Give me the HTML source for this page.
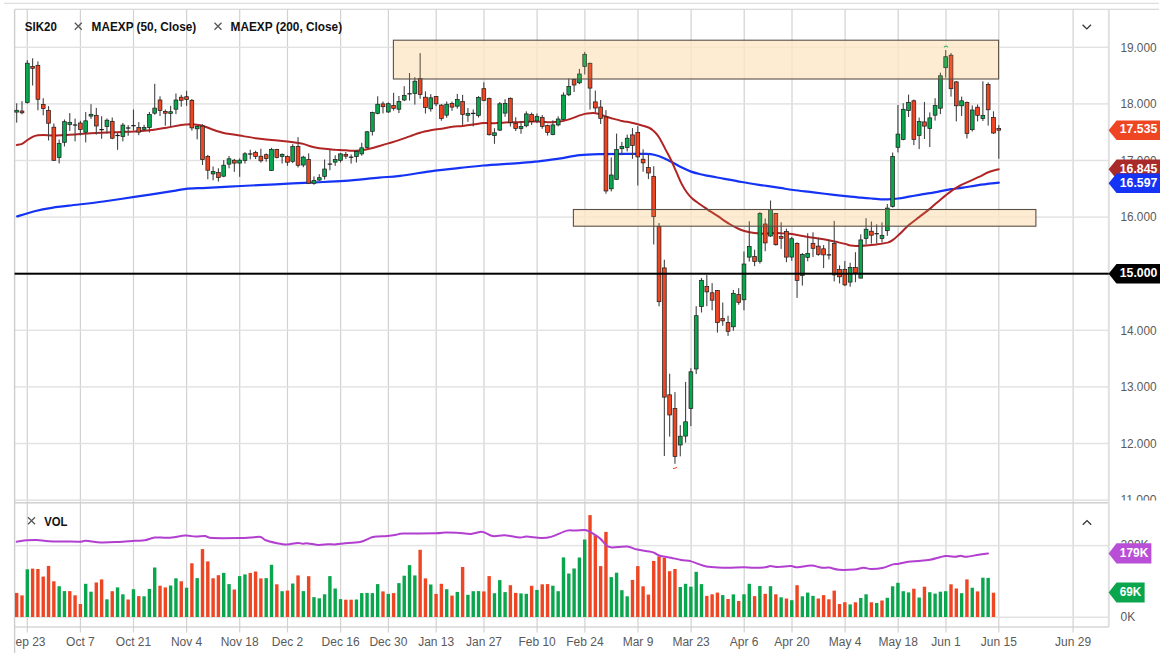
<!DOCTYPE html>
<html lang="en"><head><meta charset="utf-8"><title>SIK20 chart</title>
<style>html,body{margin:0;padding:0;background:#fff}body{width:1163px;height:653px;overflow:hidden;font-family:"Liberation Sans",Arial,sans-serif}</style>
</head><body>
<svg width="1163" height="653" viewBox="0 0 1163 653" style="display:block">
<rect width="1163" height="653" fill="#fff"/>
<rect x="4" y="2.8" width="1155" height="1" fill="#d6d6d6"/>
<g fill="#d2d2d2">
<rect x="26.7" y="9.3" width="1.2" height="623.2"/>
<rect x="79.8" y="9.3" width="1.2" height="623.2"/>
<rect x="132.9" y="9.3" width="1.2" height="623.2"/>
<rect x="186.0" y="9.3" width="1.2" height="623.2"/>
<rect x="239.1" y="9.3" width="1.2" height="623.2"/>
<rect x="286.9" y="9.3" width="1.2" height="623.2"/>
<rect x="340.0" y="9.3" width="1.2" height="623.2"/>
<rect x="387.8" y="9.3" width="1.2" height="623.2"/>
<rect x="435.6" y="9.3" width="1.2" height="623.2"/>
<rect x="483.4" y="9.3" width="1.2" height="623.2"/>
<rect x="536.5" y="9.3" width="1.2" height="623.2"/>
<rect x="584.3" y="9.3" width="1.2" height="623.2"/>
<rect x="637.4" y="9.3" width="1.2" height="623.2"/>
<rect x="690.5" y="9.3" width="1.2" height="623.2"/>
<rect x="743.6" y="9.3" width="1.2" height="623.2"/>
<rect x="791.4" y="9.3" width="1.2" height="623.2"/>
<rect x="844.5" y="9.3" width="1.2" height="623.2"/>
<rect x="897.6" y="9.3" width="1.2" height="623.2"/>
<rect x="945.4" y="9.3" width="1.2" height="623.2"/>
<rect x="998.2" y="9.3" width="1.2" height="623.2"/>
<rect x="1072.5" y="9.3" width="1.2" height="623.2"/>
</g>
<g fill="#e2e2e2">
<rect x="14.6" y="46.6" width="1094.2" height="1.4"/>
<rect x="14.6" y="103.2" width="1094.2" height="1.4"/>
<rect x="14.6" y="159.8" width="1094.2" height="1.4"/>
<rect x="14.6" y="216.4" width="1094.2" height="1.4"/>
<rect x="14.6" y="273.0" width="1094.2" height="1.4"/>
<rect x="14.6" y="329.6" width="1094.2" height="1.4"/>
<rect x="14.6" y="386.2" width="1094.2" height="1.4"/>
<rect x="14.6" y="442.8" width="1094.2" height="1.4"/>
<rect x="14.6" y="499.4" width="1094.2" height="1.6"/>
<rect x="14.6" y="544.9" width="1094.2" height="1.4"/>
<rect x="14.6" y="616.5" width="1094.2" height="1.4"/>
</g>
<g fill="#cdcdcd">
<rect x="13.9" y="9.3" width="1.4" height="643.7"/>
<rect x="14.6" y="8.7" width="1144.4" height="1.2" fill="#d6d6d6"/>
<rect x="14.6" y="502.1" width="1094.2" height="1.4"/>
<rect x="14.6" y="626.4" width="1094.2" height="1.2"/>
</g>
<rect x="1107.8" y="9.3" width="2" height="617.7" fill="#e0e0e0"/>
<rect x="14.98" y="592.9" width="3.4" height="24.1" fill="#ee4523"/>
<rect x="20.29" y="595.4" width="3.4" height="21.6" fill="#ee4523"/>
<rect x="25.60" y="569.3" width="3.4" height="47.7" fill="#0aa64d"/>
<rect x="30.91" y="568.6" width="3.4" height="48.4" fill="#ee4523"/>
<rect x="36.22" y="569.0" width="3.4" height="48.0" fill="#ee4523"/>
<rect x="41.53" y="576.6" width="3.4" height="40.4" fill="#ee4523"/>
<rect x="46.83" y="565.9" width="3.4" height="51.1" fill="#ee4523"/>
<rect x="52.14" y="581.3" width="3.4" height="35.7" fill="#ee4523"/>
<rect x="57.45" y="586.2" width="3.4" height="30.8" fill="#0aa64d"/>
<rect x="62.76" y="591.1" width="3.4" height="25.9" fill="#0aa64d"/>
<rect x="68.07" y="591.1" width="3.4" height="25.9" fill="#ee4523"/>
<rect x="73.38" y="595.3" width="3.4" height="21.7" fill="#ee4523"/>
<rect x="78.69" y="604.0" width="3.4" height="13.0" fill="#ee4523"/>
<rect x="84.00" y="583.8" width="3.4" height="33.2" fill="#0aa64d"/>
<rect x="89.30" y="591.7" width="3.4" height="25.3" fill="#0aa64d"/>
<rect x="94.61" y="582.5" width="3.4" height="34.5" fill="#ee4523"/>
<rect x="99.92" y="579.4" width="3.4" height="37.6" fill="#ee4523"/>
<rect x="105.23" y="599.3" width="3.4" height="17.7" fill="#0aa64d"/>
<rect x="110.54" y="591.2" width="3.4" height="25.8" fill="#ee4523"/>
<rect x="115.85" y="587.4" width="3.4" height="29.6" fill="#0aa64d"/>
<rect x="121.16" y="594.3" width="3.4" height="22.7" fill="#0aa64d"/>
<rect x="126.47" y="599.5" width="3.4" height="17.5" fill="#ee4523"/>
<rect x="131.77" y="589.2" width="3.4" height="27.8" fill="#0aa64d"/>
<rect x="137.08" y="596.1" width="3.4" height="20.9" fill="#ee4523"/>
<rect x="142.39" y="596.3" width="3.4" height="20.7" fill="#0aa64d"/>
<rect x="147.70" y="588.9" width="3.4" height="28.1" fill="#0aa64d"/>
<rect x="153.01" y="567.5" width="3.4" height="49.5" fill="#0aa64d"/>
<rect x="158.32" y="585.7" width="3.4" height="31.3" fill="#ee4523"/>
<rect x="163.63" y="587.4" width="3.4" height="29.6" fill="#ee4523"/>
<rect x="168.93" y="585.5" width="3.4" height="31.5" fill="#0aa64d"/>
<rect x="174.24" y="578.3" width="3.4" height="38.7" fill="#0aa64d"/>
<rect x="179.55" y="581.3" width="3.4" height="35.7" fill="#ee4523"/>
<rect x="184.86" y="587.7" width="3.4" height="29.3" fill="#0aa64d"/>
<rect x="190.17" y="563.3" width="3.4" height="53.7" fill="#ee4523"/>
<rect x="195.48" y="578.1" width="3.4" height="38.9" fill="#0aa64d"/>
<rect x="200.79" y="549.1" width="3.4" height="67.9" fill="#ee4523"/>
<rect x="206.10" y="561.4" width="3.4" height="55.6" fill="#ee4523"/>
<rect x="211.40" y="578.3" width="3.4" height="38.7" fill="#ee4523"/>
<rect x="216.71" y="575.2" width="3.4" height="41.8" fill="#ee4523"/>
<rect x="222.02" y="572.9" width="3.4" height="44.1" fill="#0aa64d"/>
<rect x="227.33" y="584.1" width="3.4" height="32.9" fill="#0aa64d"/>
<rect x="232.64" y="589.5" width="3.4" height="27.5" fill="#ee4523"/>
<rect x="237.95" y="576.1" width="3.4" height="40.9" fill="#0aa64d"/>
<rect x="243.26" y="574.4" width="3.4" height="42.6" fill="#0aa64d"/>
<rect x="248.57" y="572.9" width="3.4" height="44.1" fill="#ee4523"/>
<rect x="253.87" y="571.5" width="3.4" height="45.5" fill="#ee4523"/>
<rect x="259.18" y="578.4" width="3.4" height="38.6" fill="#ee4523"/>
<rect x="264.49" y="578.1" width="3.4" height="38.9" fill="#0aa64d"/>
<rect x="269.80" y="564.8" width="3.4" height="52.2" fill="#0aa64d"/>
<rect x="275.11" y="584.3" width="3.4" height="32.7" fill="#ee4523"/>
<rect x="280.42" y="591.2" width="3.4" height="25.8" fill="#0aa64d"/>
<rect x="285.73" y="590.6" width="3.4" height="26.4" fill="#ee4523"/>
<rect x="291.04" y="583.5" width="3.4" height="33.5" fill="#0aa64d"/>
<rect x="296.34" y="575.4" width="3.4" height="41.6" fill="#ee4523"/>
<rect x="301.65" y="591.1" width="3.4" height="25.9" fill="#0aa64d"/>
<rect x="306.96" y="576.2" width="3.4" height="40.8" fill="#ee4523"/>
<rect x="312.27" y="597.1" width="3.4" height="19.9" fill="#0aa64d"/>
<rect x="317.58" y="598.3" width="3.4" height="18.7" fill="#0aa64d"/>
<rect x="322.89" y="594.3" width="3.4" height="22.7" fill="#0aa64d"/>
<rect x="328.20" y="576.1" width="3.4" height="40.9" fill="#0aa64d"/>
<rect x="333.50" y="588.5" width="3.4" height="28.5" fill="#0aa64d"/>
<rect x="338.81" y="599.1" width="3.4" height="17.9" fill="#0aa64d"/>
<rect x="344.12" y="599.7" width="3.4" height="17.3" fill="#ee4523"/>
<rect x="349.43" y="599.7" width="3.4" height="17.3" fill="#ee4523"/>
<rect x="354.74" y="599.5" width="3.4" height="17.5" fill="#0aa64d"/>
<rect x="360.05" y="593.1" width="3.4" height="23.9" fill="#0aa64d"/>
<rect x="365.36" y="592.9" width="3.4" height="24.1" fill="#0aa64d"/>
<rect x="370.67" y="593.1" width="3.4" height="23.9" fill="#0aa64d"/>
<rect x="375.97" y="584.1" width="3.4" height="32.9" fill="#0aa64d"/>
<rect x="381.28" y="591.4" width="3.4" height="25.6" fill="#ee4523"/>
<rect x="386.59" y="593.9" width="3.4" height="23.1" fill="#0aa64d"/>
<rect x="391.90" y="593.1" width="3.4" height="23.9" fill="#ee4523"/>
<rect x="397.21" y="583.1" width="3.4" height="33.9" fill="#0aa64d"/>
<rect x="402.52" y="575.7" width="3.4" height="41.3" fill="#0aa64d"/>
<rect x="407.83" y="565.1" width="3.4" height="51.9" fill="#0aa64d"/>
<rect x="413.14" y="575.4" width="3.4" height="41.6" fill="#0aa64d"/>
<rect x="418.44" y="549.8" width="3.4" height="67.2" fill="#ee4523"/>
<rect x="423.75" y="578.4" width="3.4" height="38.6" fill="#ee4523"/>
<rect x="429.06" y="584.5" width="3.4" height="32.5" fill="#0aa64d"/>
<rect x="434.37" y="593.9" width="3.4" height="23.1" fill="#ee4523"/>
<rect x="439.68" y="583.8" width="3.4" height="33.2" fill="#ee4523"/>
<rect x="444.99" y="589.2" width="3.4" height="27.8" fill="#0aa64d"/>
<rect x="450.30" y="595.6" width="3.4" height="21.4" fill="#ee4523"/>
<rect x="455.60" y="591.9" width="3.4" height="25.1" fill="#0aa64d"/>
<rect x="460.91" y="567.0" width="3.4" height="50.0" fill="#ee4523"/>
<rect x="466.22" y="594.8" width="3.4" height="22.2" fill="#0aa64d"/>
<rect x="471.53" y="591.2" width="3.4" height="25.8" fill="#0aa64d"/>
<rect x="476.84" y="591.1" width="3.4" height="25.9" fill="#0aa64d"/>
<rect x="482.15" y="591.4" width="3.4" height="25.6" fill="#ee4523"/>
<rect x="487.46" y="576.1" width="3.4" height="40.9" fill="#ee4523"/>
<rect x="492.77" y="593.2" width="3.4" height="23.8" fill="#0aa64d"/>
<rect x="498.07" y="580.1" width="3.4" height="36.9" fill="#0aa64d"/>
<rect x="503.38" y="592.1" width="3.4" height="24.9" fill="#0aa64d"/>
<rect x="508.69" y="585.2" width="3.4" height="31.8" fill="#ee4523"/>
<rect x="514.00" y="592.9" width="3.4" height="24.1" fill="#ee4523"/>
<rect x="519.31" y="593.4" width="3.4" height="23.6" fill="#0aa64d"/>
<rect x="524.62" y="593.8" width="3.4" height="23.2" fill="#0aa64d"/>
<rect x="529.93" y="585.8" width="3.4" height="31.2" fill="#ee4523"/>
<rect x="535.24" y="589.9" width="3.4" height="27.1" fill="#0aa64d"/>
<rect x="540.54" y="584.3" width="3.4" height="32.7" fill="#ee4523"/>
<rect x="545.85" y="584.1" width="3.4" height="32.9" fill="#ee4523"/>
<rect x="551.16" y="585.7" width="3.4" height="31.3" fill="#0aa64d"/>
<rect x="556.47" y="591.2" width="3.4" height="25.8" fill="#0aa64d"/>
<rect x="561.78" y="557.4" width="3.4" height="59.6" fill="#0aa64d"/>
<rect x="567.09" y="573.5" width="3.4" height="43.5" fill="#0aa64d"/>
<rect x="572.40" y="568.5" width="3.4" height="48.5" fill="#0aa64d"/>
<rect x="577.70" y="557.5" width="3.4" height="59.5" fill="#0aa64d"/>
<rect x="583.01" y="539.5" width="3.4" height="77.5" fill="#0aa64d"/>
<rect x="588.32" y="515.1" width="3.4" height="101.9" fill="#ee4523"/>
<rect x="593.63" y="535.3" width="3.4" height="81.7" fill="#ee4523"/>
<rect x="598.94" y="566.1" width="3.4" height="50.9" fill="#ee4523"/>
<rect x="604.25" y="531.9" width="3.4" height="85.1" fill="#ee4523"/>
<rect x="609.56" y="577.1" width="3.4" height="39.9" fill="#0aa64d"/>
<rect x="614.87" y="572.7" width="3.4" height="44.3" fill="#0aa64d"/>
<rect x="620.17" y="590.2" width="3.4" height="26.8" fill="#0aa64d"/>
<rect x="625.48" y="596.3" width="3.4" height="20.7" fill="#0aa64d"/>
<rect x="630.79" y="579.9" width="3.4" height="37.1" fill="#ee4523"/>
<rect x="636.10" y="566.1" width="3.4" height="50.9" fill="#ee4523"/>
<rect x="641.41" y="586.3" width="3.4" height="30.7" fill="#ee4523"/>
<rect x="646.72" y="594.6" width="3.4" height="22.4" fill="#ee4523"/>
<rect x="652.03" y="560.9" width="3.4" height="56.1" fill="#ee4523"/>
<rect x="657.34" y="556.3" width="3.4" height="60.7" fill="#ee4523"/>
<rect x="662.64" y="557.7" width="3.4" height="59.3" fill="#ee4523"/>
<rect x="667.95" y="571.2" width="3.4" height="45.8" fill="#ee4523"/>
<rect x="673.26" y="569.0" width="3.4" height="48.0" fill="#ee4523"/>
<rect x="678.57" y="587.0" width="3.4" height="30.0" fill="#0aa64d"/>
<rect x="683.88" y="583.8" width="3.4" height="33.2" fill="#0aa64d"/>
<rect x="689.19" y="586.7" width="3.4" height="30.3" fill="#0aa64d"/>
<rect x="694.50" y="571.8" width="3.4" height="45.2" fill="#0aa64d"/>
<rect x="699.80" y="584.1" width="3.4" height="32.9" fill="#0aa64d"/>
<rect x="705.11" y="595.9" width="3.4" height="21.1" fill="#ee4523"/>
<rect x="710.42" y="594.3" width="3.4" height="22.7" fill="#ee4523"/>
<rect x="715.73" y="592.6" width="3.4" height="24.4" fill="#ee4523"/>
<rect x="721.04" y="595.1" width="3.4" height="21.9" fill="#0aa64d"/>
<rect x="726.35" y="599.0" width="3.4" height="18.0" fill="#ee4523"/>
<rect x="731.66" y="594.4" width="3.4" height="22.6" fill="#0aa64d"/>
<rect x="736.97" y="601.0" width="3.4" height="16.0" fill="#ee4523"/>
<rect x="742.27" y="594.3" width="3.4" height="22.7" fill="#0aa64d"/>
<rect x="747.58" y="583.8" width="3.4" height="33.2" fill="#0aa64d"/>
<rect x="752.89" y="596.1" width="3.4" height="20.9" fill="#ee4523"/>
<rect x="758.20" y="586.0" width="3.4" height="31.0" fill="#0aa64d"/>
<rect x="763.51" y="593.8" width="3.4" height="23.2" fill="#ee4523"/>
<rect x="768.82" y="586.2" width="3.4" height="30.8" fill="#0aa64d"/>
<rect x="774.13" y="594.3" width="3.4" height="22.7" fill="#ee4523"/>
<rect x="779.44" y="597.3" width="3.4" height="19.7" fill="#0aa64d"/>
<rect x="784.74" y="598.5" width="3.4" height="18.5" fill="#ee4523"/>
<rect x="790.05" y="600.2" width="3.4" height="16.8" fill="#0aa64d"/>
<rect x="795.36" y="585.2" width="3.4" height="31.8" fill="#ee4523"/>
<rect x="800.67" y="596.3" width="3.4" height="20.7" fill="#0aa64d"/>
<rect x="805.98" y="592.6" width="3.4" height="24.4" fill="#0aa64d"/>
<rect x="811.29" y="595.9" width="3.4" height="21.1" fill="#0aa64d"/>
<rect x="816.60" y="598.5" width="3.4" height="18.5" fill="#ee4523"/>
<rect x="821.90" y="595.1" width="3.4" height="21.9" fill="#ee4523"/>
<rect x="827.21" y="599.3" width="3.4" height="17.7" fill="#ee4523"/>
<rect x="832.52" y="590.6" width="3.4" height="26.4" fill="#ee4523"/>
<rect x="837.83" y="604.0" width="3.4" height="13.0" fill="#ee4523"/>
<rect x="843.14" y="602.2" width="3.4" height="14.8" fill="#ee4523"/>
<rect x="848.45" y="604.4" width="3.4" height="12.6" fill="#0aa64d"/>
<rect x="853.76" y="602.3" width="3.4" height="14.7" fill="#ee4523"/>
<rect x="859.07" y="598.0" width="3.4" height="19.0" fill="#0aa64d"/>
<rect x="864.37" y="594.3" width="3.4" height="22.7" fill="#0aa64d"/>
<rect x="869.68" y="602.3" width="3.4" height="14.7" fill="#ee4523"/>
<rect x="874.99" y="603.0" width="3.4" height="14.0" fill="#0aa64d"/>
<rect x="880.30" y="600.5" width="3.4" height="16.5" fill="#ee4523"/>
<rect x="885.61" y="597.8" width="3.4" height="19.2" fill="#0aa64d"/>
<rect x="890.92" y="586.3" width="3.4" height="30.7" fill="#0aa64d"/>
<rect x="896.23" y="582.8" width="3.4" height="34.2" fill="#0aa64d"/>
<rect x="901.54" y="591.2" width="3.4" height="25.8" fill="#0aa64d"/>
<rect x="906.84" y="592.4" width="3.4" height="24.6" fill="#0aa64d"/>
<rect x="912.15" y="588.7" width="3.4" height="28.3" fill="#ee4523"/>
<rect x="917.46" y="597.5" width="3.4" height="19.5" fill="#0aa64d"/>
<rect x="922.77" y="586.7" width="3.4" height="30.3" fill="#ee4523"/>
<rect x="928.08" y="592.2" width="3.4" height="24.8" fill="#0aa64d"/>
<rect x="933.39" y="593.6" width="3.4" height="23.4" fill="#0aa64d"/>
<rect x="938.70" y="591.7" width="3.4" height="25.3" fill="#0aa64d"/>
<rect x="944.01" y="591.2" width="3.4" height="25.8" fill="#0aa64d"/>
<rect x="949.31" y="584.3" width="3.4" height="32.7" fill="#ee4523"/>
<rect x="954.62" y="588.5" width="3.4" height="28.5" fill="#ee4523"/>
<rect x="959.93" y="593.2" width="3.4" height="23.8" fill="#0aa64d"/>
<rect x="965.24" y="579.4" width="3.4" height="37.6" fill="#ee4523"/>
<rect x="970.55" y="587.7" width="3.4" height="29.3" fill="#0aa64d"/>
<rect x="975.86" y="591.4" width="3.4" height="25.6" fill="#ee4523"/>
<rect x="981.17" y="577.7" width="3.4" height="39.3" fill="#0aa64d"/>
<rect x="986.47" y="577.9" width="3.4" height="39.1" fill="#0aa64d"/>
<rect x="991.78" y="592.7" width="3.4" height="24.3" fill="#ee4523"/>
<path d="M16.7,541.7 C18.4,541.5 23.5,540.6 26.9,540.3 C30.3,540.0 33.4,539.9 37.0,540.0 C40.6,540.1 44.0,541.0 48.8,541.2 C53.6,541.5 60.3,541.4 65.6,541.5 C70.9,541.6 77.4,541.8 80.8,541.7 C84.2,541.6 82.4,540.7 85.8,540.8 C89.2,540.9 95.7,542.3 101.0,542.5 C106.3,542.7 112.3,542.3 117.9,542.0 C123.5,541.7 130.2,541.1 134.7,540.8 C139.2,540.5 141.4,540.8 144.8,540.3 C148.2,539.8 151.0,537.9 154.9,537.5 C158.8,537.1 163.3,538.1 168.4,537.8 C173.5,537.5 180.8,535.8 185.3,535.6 C189.8,535.4 192.1,536.5 195.4,536.6 C198.7,536.7 202.1,535.9 205.0,536.1 C207.9,536.4 206.8,537.8 212.6,538.1 C218.4,538.4 233.3,538.2 239.6,538.1 C245.9,538.0 247.1,537.7 250.6,537.5 C254.1,537.3 258.2,536.5 260.7,537.0 C263.2,537.5 263.2,539.3 265.7,540.3 C268.2,541.3 272.3,542.2 275.8,542.9 C279.3,543.6 283.2,544.5 286.8,544.5 C290.4,544.5 295.0,543.0 297.7,542.9 C300.4,542.8 301.1,543.6 302.8,543.7 C304.5,543.8 305.2,543.2 307.9,543.4 C310.6,543.6 315.4,544.9 318.8,545.0 C322.2,545.1 325.4,544.3 328.1,544.2 C330.8,544.1 332.3,544.6 334.8,544.5 C337.3,544.4 339.0,543.8 343.2,543.4 C347.4,543.0 355.3,543.0 360.1,542.0 C364.9,541.0 368.8,538.2 371.9,537.3 C375.0,536.4 376.1,536.7 378.6,536.5 C381.1,536.3 384.1,536.4 387.0,536.1 C389.9,535.8 393.2,535.2 396.0,534.8 C398.8,534.4 396.9,533.9 403.5,533.6 C410.1,533.4 428.5,533.5 435.5,533.3 C442.5,533.1 442.0,532.5 445.6,532.4 C449.2,532.3 453.2,532.5 457.4,532.8 C461.6,533.0 466.7,534.0 470.9,533.9 C475.1,533.8 479.0,531.5 482.7,531.9 C486.4,532.3 489.1,535.5 492.8,536.1 C496.5,536.7 500.1,535.1 504.6,535.3 C509.1,535.5 516.1,537.3 519.8,537.5 C523.4,537.7 522.9,536.5 526.5,536.6 C530.1,536.7 537.5,538.1 541.7,538.1 C545.9,538.1 547.6,537.9 551.8,536.6 C556.0,535.4 563.1,531.6 567.0,530.6 C570.9,529.6 572.4,530.7 575.4,530.6 C578.4,530.5 582.5,529.7 585.0,529.9 C587.5,530.1 587.6,530.4 590.1,531.9 C592.6,533.4 597.5,536.4 600.2,538.6 C602.9,540.8 604.1,543.6 606.1,545.1 C608.1,546.6 608.5,547.1 612.0,547.4 C615.5,547.6 623.0,546.2 627.2,546.6 C631.4,547.0 633.1,548.7 637.3,549.6 C641.5,550.5 648.9,551.1 652.5,552.1 C656.1,553.1 656.1,554.6 659.2,555.5 C662.3,556.4 667.4,557.0 671.0,557.7 C674.6,558.5 677.9,559.4 681.1,560.0 C684.3,560.6 687.6,560.5 690.4,561.1 C693.2,561.8 695.3,563.0 698.0,563.9 C700.7,564.8 703.0,565.9 706.4,566.5 C709.8,567.1 714.6,567.4 718.2,567.6 C721.9,567.8 724.1,567.8 728.3,567.8 C732.5,567.8 739.3,567.3 743.5,567.3 C747.7,567.3 750.0,567.8 753.6,567.8 C757.2,567.8 762.6,567.6 765.4,567.3 C768.2,567.0 768.6,566.0 770.4,566.0 C772.2,566.0 774.4,566.9 776.0,567.0 C777.6,567.1 777.6,566.9 780.1,566.8 C782.6,566.6 788.2,566.0 791.1,566.1 C794.0,566.2 794.4,567.4 797.8,567.3 C801.2,567.2 807.2,565.5 811.3,565.6 C815.4,565.7 819.2,567.5 822.2,567.8 C825.2,568.1 826.2,567.3 829.0,567.6 C831.8,567.9 834.9,569.5 839.1,569.8 C843.3,570.1 850.2,569.8 854.3,569.5 C858.4,569.2 860.7,567.9 863.5,567.8 C866.3,567.7 868.0,569.0 871.1,569.0 C874.2,569.0 878.5,568.9 882.1,568.1 C885.8,567.3 890.3,565.1 893.0,564.4 C895.7,563.7 895.6,564.3 898.1,563.9 C900.6,563.5 904.8,562.2 908.2,561.7 C911.6,561.2 914.6,561.2 918.3,560.9 C921.9,560.6 925.6,560.5 930.1,559.7 C934.6,558.9 941.1,556.5 945.3,556.0 C949.5,555.5 952.9,556.8 955.4,556.8 C957.9,556.8 958.5,555.8 960.4,555.8 C962.3,555.8 963.9,557.0 967.0,556.8 C970.1,556.6 975.3,555.2 978.8,554.7 C982.3,554.2 986.5,553.7 988.0,553.5" fill="none" stroke="#b23fd0" stroke-width="2" stroke-linejoin="round" stroke-linecap="round"/>
<rect x="393.4" y="40.2" width="605.2" height="38.8" fill="rgba(253,238,216,0.75)"/>
<rect x="573.4" y="209.5" width="462.5" height="16.7" fill="rgba(253,238,216,0.75)"/>
<path d="M17.2,216.4 C20.1,215.5 28.8,212.6 34.5,211.2 C40.2,209.8 46.0,208.7 51.7,207.8 C57.4,206.9 60.3,206.8 68.9,205.7 C77.5,204.6 91.9,203.1 103.4,201.5 C114.9,199.9 126.3,198.1 137.8,196.4 C149.3,194.7 164.3,192.4 172.3,191.2 C180.3,189.9 180.3,189.5 186.0,188.9 C191.7,188.3 197.5,188.3 206.7,187.8 C215.9,187.3 229.7,186.6 241.2,186.0 C252.7,185.4 264.1,184.9 275.6,184.3 C287.1,183.7 298.5,183.2 310.0,182.6 C321.5,182.0 333.0,181.7 344.5,180.9 C356.0,180.1 369.8,178.4 379.0,177.6 C388.2,176.8 390.6,177.0 400.0,175.8 C409.4,174.6 425.1,171.9 435.1,170.6 C445.1,169.3 452.0,168.8 460.0,167.9 C468.0,167.1 473.7,166.3 483.3,165.5 C492.9,164.7 508.6,163.8 517.8,163.1 C527.0,162.4 531.6,162.1 538.5,161.3 C545.4,160.6 552.1,159.6 559.0,158.6 C565.9,157.6 572.9,155.9 579.8,155.2 C586.7,154.4 592.7,154.3 600.5,154.1 C608.3,153.9 619.4,153.9 626.8,153.9 C634.2,153.9 640.6,153.8 645.1,153.9 C649.6,154.1 650.9,154.1 654.0,154.8 C657.1,155.5 660.4,156.6 663.5,157.9 C666.6,159.2 669.6,161.0 672.7,162.6 C675.8,164.2 678.8,166.1 681.9,167.6 C685.0,169.1 688.0,170.5 691.1,171.6 C694.2,172.7 697.1,173.4 700.3,174.2 C703.4,175.0 706.0,175.4 710.0,176.2 C714.0,177.0 719.2,177.8 724.5,178.8 C729.8,179.8 736.0,181.0 741.8,182.0 C747.5,183.0 752.6,183.8 759.0,184.8 C765.4,185.8 774.3,187.0 780.0,187.9 C785.7,188.8 787.7,189.2 793.3,190.0 C798.9,190.8 807.1,191.6 813.5,192.4 C819.9,193.2 825.7,193.9 831.9,194.6 C838.1,195.3 845.6,196.2 850.5,196.7 C855.4,197.2 857.5,197.3 861.0,197.6 C864.5,197.9 868.1,198.2 871.6,198.5 C875.1,198.8 879.6,199.2 882.3,199.3 C885.0,199.4 884.9,199.4 887.6,199.3 C890.3,199.2 894.8,198.9 898.3,198.5 C901.8,198.1 905.4,197.3 908.9,196.7 C912.4,196.1 915.9,195.4 919.4,194.8 C922.9,194.2 926.5,193.7 930.1,193.1 C933.7,192.5 937.2,191.8 940.7,191.1 C944.2,190.4 947.5,189.8 951.2,189.2 C954.9,188.6 958.5,188.4 963.0,187.7 C967.5,187.0 972.3,185.9 978.3,185.1 C984.3,184.3 995.4,183.1 998.8,182.7" fill="none" stroke="#1433f5" stroke-width="2.2" stroke-linejoin="round" stroke-linecap="round"/>
<path d="M16.8,145.0 C17.7,144.8 20.3,144.6 22.1,143.8 C23.9,143.0 25.8,141.2 27.5,140.0 C29.2,138.8 30.9,137.6 32.6,136.8 C34.3,136.0 36.1,135.6 37.9,135.3 C39.7,135.0 40.6,134.9 43.3,134.9 C45.9,134.9 50.3,135.5 53.8,135.5 C57.3,135.5 60.9,135.1 64.4,134.9 C68.0,134.7 71.6,134.6 75.1,134.4 C78.6,134.2 82.1,133.8 85.6,133.6 C89.1,133.4 92.7,133.3 96.2,133.1 C99.8,132.9 103.4,132.7 106.9,132.5 C110.4,132.3 113.9,132.3 117.4,132.2 C120.9,132.1 125.3,131.9 128.0,131.8 C130.7,131.7 129.8,131.8 133.4,131.6 C137.0,131.3 144.1,130.9 149.4,130.3 C154.7,129.7 159.9,128.8 165.2,127.9 C170.5,127.0 177.6,125.7 181.2,125.1 C184.8,124.5 184.7,124.6 186.5,124.4 C188.3,124.2 190.1,124.1 191.9,124.2 C193.7,124.3 195.4,124.5 197.2,124.8 C199.0,125.0 199.8,124.9 202.5,125.7 C205.2,126.5 209.7,128.5 213.2,129.7 C216.7,130.9 220.9,132.3 223.7,133.0 C226.5,133.7 227.3,133.7 230.0,134.1 C232.7,134.5 235.4,134.9 239.7,135.6 C244.0,136.3 250.3,137.5 255.6,138.2 C260.9,138.9 266.2,139.4 271.5,140.0 C276.8,140.6 283.1,141.0 287.5,141.5 C291.9,142.0 295.6,142.5 298.2,142.9 C300.8,143.3 301.6,143.4 303.3,143.9 C305.1,144.4 306.9,145.1 308.7,145.7 C310.5,146.2 311.3,146.7 314.0,147.2 C316.7,147.7 321.1,148.4 324.7,148.8 C328.2,149.2 331.8,149.4 335.3,149.7 C338.8,149.9 343.2,150.1 345.8,150.3 C348.4,150.5 349.4,150.6 351.2,150.7 C353.0,150.8 354.7,150.8 356.5,150.7 C358.3,150.6 360.1,150.4 361.9,150.2 C363.7,150.0 364.6,149.9 367.2,149.3 C369.8,148.7 374.2,147.5 377.7,146.5 C381.2,145.5 384.8,144.5 388.3,143.4 C391.9,142.3 395.4,141.3 399.0,140.1 C402.6,138.9 406.2,137.6 409.7,136.4 C413.2,135.2 416.6,133.7 420.1,132.7 C423.6,131.7 427.2,131.0 430.8,130.3 C434.4,129.6 437.9,129.3 441.5,128.7 C445.1,128.1 448.6,127.2 452.1,126.8 C455.6,126.3 459.2,126.4 462.7,126.0 C466.2,125.6 469.8,125.1 473.3,124.6 C476.9,124.1 480.4,123.3 484.0,123.1 C487.6,122.9 491.2,123.4 494.7,123.3 C498.2,123.2 501.6,122.6 505.1,122.4 C508.6,122.2 512.2,122.3 515.8,122.2 C519.4,122.1 523.0,121.9 526.5,121.8 C530.0,121.7 533.6,121.3 537.1,121.4 C540.6,121.5 544.1,122.1 547.6,122.2 C551.1,122.3 554.7,122.3 558.3,121.8 C561.9,121.3 565.4,120.5 569.0,119.4 C572.6,118.3 577.1,116.3 579.7,115.4 C582.3,114.5 583.1,114.3 584.8,113.9 C586.5,113.5 588.3,113.3 590.1,113.2 C591.9,113.1 593.7,113.0 595.5,113.2 C597.3,113.4 599.0,113.8 600.8,114.4 C602.6,115.0 603.4,115.9 606.1,116.8 C608.8,117.7 614.1,118.9 616.8,119.6 C619.4,120.3 620.2,120.7 622.0,121.1 C623.8,121.5 624.6,121.3 627.3,121.8 C630.0,122.3 634.5,123.3 638.0,124.3 C641.5,125.2 645.9,126.3 648.6,127.5 C651.3,128.7 652.2,129.6 654.0,131.3 C655.8,133.0 657.4,134.6 659.3,137.7 C661.2,140.8 663.7,145.9 665.6,149.6 C667.5,153.3 669.1,156.0 670.9,159.7 C672.7,163.4 674.4,167.7 676.2,171.7 C678.0,175.7 679.7,180.1 681.5,183.6 C683.3,187.1 685.1,190.0 686.9,192.5 C688.7,195.0 690.0,196.5 692.2,198.5 C694.4,200.5 697.8,202.7 700.3,204.5 C702.8,206.3 704.5,207.4 707.3,209.3 C710.1,211.2 713.4,213.2 717.1,215.7 C720.8,218.1 725.7,221.7 729.5,224.0 C733.3,226.3 736.6,228.1 740.0,229.5 C743.4,230.9 746.3,231.6 749.6,232.3 C752.9,233.0 756.5,233.4 760.0,233.6 C763.5,233.8 767.1,233.3 770.7,233.2 C774.3,233.1 777.9,233.0 781.4,233.2 C784.9,233.3 788.5,233.6 792.0,234.1 C795.5,234.6 799.2,235.4 802.7,236.0 C806.2,236.6 809.7,237.2 813.2,237.8 C816.7,238.4 820.2,238.7 823.8,239.3 C827.3,239.9 831.0,240.7 834.5,241.5 C838.0,242.3 842.4,243.2 845.1,243.9 C847.8,244.6 848.7,245.1 850.5,245.4 C852.3,245.7 853.2,245.9 855.8,245.9 C858.4,245.9 862.8,245.7 866.3,245.4 C869.8,245.2 873.3,244.9 876.9,244.4 C880.5,243.9 884.9,243.3 887.6,242.6 C890.3,241.8 891.1,241.1 892.9,239.9 C894.7,238.7 895.6,237.8 898.3,235.3 C901.0,232.8 905.4,228.2 908.9,225.1 C912.4,222.0 915.9,219.7 919.4,216.9 C922.9,214.2 926.5,211.5 930.1,208.6 C933.7,205.7 937.2,202.3 940.7,199.4 C944.2,196.5 948.0,193.4 951.2,191.1 C954.4,188.8 958.0,186.8 960.0,185.6 C962.0,184.4 960.0,185.6 963.0,184.2 C966.0,182.8 974.0,179.2 978.3,177.2 C982.6,175.2 985.6,173.3 989.0,172.0 C992.4,170.7 997.2,169.7 998.8,169.2" fill="none" stroke="#b02424" stroke-width="2" stroke-linejoin="round" stroke-linecap="round"/>
<g>
<rect x="16.13" y="103.3" width="1.1" height="19.3" fill="#444"/>
<rect x="14.78" y="110.3" width="3.8" height="1.8" fill="#0aa64d" stroke="#1a1a1a" stroke-width="0.7"/>
<rect x="21.44" y="101.1" width="1.1" height="13.2" fill="#444"/>
<rect x="20.09" y="111.0" width="3.8" height="1.8" fill="#ee4523" stroke="#1a1a1a" stroke-width="0.7"/>
<rect x="26.75" y="60.1" width="1.1" height="43.6" fill="#444"/>
<rect x="25.40" y="63.2" width="3.8" height="39.2" fill="#0aa64d" stroke="#1a1a1a" stroke-width="0.7"/>
<rect x="32.06" y="58.3" width="1.1" height="27.2" fill="#444"/>
<rect x="30.71" y="66.5" width="3.8" height="1.8" fill="#ee4523" stroke="#1a1a1a" stroke-width="0.7"/>
<rect x="37.37" y="61.4" width="1.1" height="48.9" fill="#444"/>
<rect x="36.02" y="65.3" width="3.8" height="34.0" fill="#ee4523" stroke="#1a1a1a" stroke-width="0.7"/>
<rect x="42.68" y="98.2" width="1.1" height="17.1" fill="#444"/>
<rect x="41.33" y="104.6" width="3.8" height="3.9" fill="#ee4523" stroke="#1a1a1a" stroke-width="0.7"/>
<rect x="47.98" y="106.1" width="1.1" height="34.4" fill="#444"/>
<rect x="46.63" y="110.3" width="3.8" height="12.9" fill="#ee4523" stroke="#1a1a1a" stroke-width="0.7"/>
<rect x="53.29" y="123.5" width="1.1" height="37.3" fill="#444"/>
<rect x="51.94" y="127.2" width="3.8" height="33.1" fill="#ee4523" stroke="#1a1a1a" stroke-width="0.7"/>
<rect x="58.60" y="139.5" width="1.1" height="23.9" fill="#444"/>
<rect x="57.25" y="143.4" width="3.8" height="14.2" fill="#0aa64d" stroke="#1a1a1a" stroke-width="0.7"/>
<rect x="63.91" y="119.5" width="1.1" height="27.0" fill="#444"/>
<rect x="62.56" y="121.7" width="3.8" height="20.6" fill="#0aa64d" stroke="#1a1a1a" stroke-width="0.7"/>
<rect x="69.22" y="113.1" width="1.1" height="17.8" fill="#444"/>
<rect x="67.87" y="122.6" width="3.8" height="1.8" fill="#0aa64d" stroke="#1a1a1a" stroke-width="0.7"/>
<rect x="74.53" y="118.6" width="1.1" height="22.8" fill="#444"/>
<rect x="72.88" y="124.4" width="4.4" height="1.2" fill="#1a1a1a"/>
<rect x="79.84" y="120.8" width="1.1" height="14.7" fill="#444"/>
<rect x="78.49" y="123.0" width="3.8" height="6.6" fill="#ee4523" stroke="#1a1a1a" stroke-width="0.7"/>
<rect x="85.15" y="112.1" width="1.1" height="30.3" fill="#444"/>
<rect x="83.80" y="120.8" width="3.8" height="11.4" fill="#0aa64d" stroke="#1a1a1a" stroke-width="0.7"/>
<rect x="90.45" y="104.2" width="1.1" height="14.7" fill="#444"/>
<rect x="89.10" y="114.3" width="3.8" height="1.8" fill="#0aa64d" stroke="#1a1a1a" stroke-width="0.7"/>
<rect x="95.76" y="107.9" width="1.1" height="26.7" fill="#444"/>
<rect x="94.41" y="115.3" width="3.8" height="10.7" fill="#ee4523" stroke="#1a1a1a" stroke-width="0.7"/>
<rect x="101.07" y="116.2" width="1.1" height="22.6" fill="#444"/>
<rect x="99.42" y="129.0" width="4.4" height="1.2" fill="#1a1a1a"/>
<rect x="106.38" y="118.4" width="1.1" height="15.3" fill="#444"/>
<rect x="105.03" y="120.2" width="3.8" height="6.4" fill="#0aa64d" stroke="#1a1a1a" stroke-width="0.7"/>
<rect x="111.69" y="117.5" width="1.1" height="21.7" fill="#444"/>
<rect x="110.34" y="121.3" width="3.8" height="16.9" fill="#ee4523" stroke="#1a1a1a" stroke-width="0.7"/>
<rect x="117.00" y="132.7" width="1.1" height="17.1" fill="#444"/>
<rect x="115.35" y="134.9" width="4.4" height="1.2" fill="#1a1a1a"/>
<rect x="122.31" y="122.9" width="1.1" height="18.4" fill="#444"/>
<rect x="120.96" y="125.1" width="3.8" height="11.4" fill="#0aa64d" stroke="#1a1a1a" stroke-width="0.7"/>
<rect x="127.62" y="125.1" width="1.1" height="10.7" fill="#444"/>
<rect x="125.97" y="127.4" width="4.4" height="1.2" fill="#1a1a1a"/>
<rect x="132.92" y="109.5" width="1.1" height="21.1" fill="#444"/>
<rect x="131.27" y="125.1" width="4.4" height="1.2" fill="#1a1a1a"/>
<rect x="138.23" y="122.0" width="1.1" height="13.2" fill="#444"/>
<rect x="136.88" y="127.5" width="3.8" height="4.6" fill="#ee4523" stroke="#1a1a1a" stroke-width="0.7"/>
<rect x="143.54" y="124.8" width="1.1" height="5.9" fill="#444"/>
<rect x="142.19" y="127.5" width="3.8" height="1.8" fill="#0aa64d" stroke="#1a1a1a" stroke-width="0.7"/>
<rect x="148.85" y="111.9" width="1.1" height="20.6" fill="#444"/>
<rect x="147.50" y="114.5" width="3.8" height="13.1" fill="#0aa64d" stroke="#1a1a1a" stroke-width="0.7"/>
<rect x="154.16" y="83.8" width="1.1" height="30.9" fill="#444"/>
<rect x="152.81" y="108.1" width="3.8" height="5.1" fill="#0aa64d" stroke="#1a1a1a" stroke-width="0.7"/>
<rect x="159.47" y="96.3" width="1.1" height="19.7" fill="#444"/>
<rect x="158.12" y="100.0" width="3.8" height="10.5" fill="#ee4523" stroke="#1a1a1a" stroke-width="0.7"/>
<rect x="164.78" y="109.5" width="1.1" height="16.2" fill="#444"/>
<rect x="163.43" y="111.4" width="3.8" height="1.8" fill="#ee4523" stroke="#1a1a1a" stroke-width="0.7"/>
<rect x="170.08" y="105.8" width="1.1" height="20.8" fill="#444"/>
<rect x="168.73" y="111.7" width="3.8" height="1.8" fill="#0aa64d" stroke="#1a1a1a" stroke-width="0.7"/>
<rect x="175.39" y="93.5" width="1.1" height="20.6" fill="#444"/>
<rect x="174.04" y="100.0" width="3.8" height="9.2" fill="#0aa64d" stroke="#1a1a1a" stroke-width="0.7"/>
<rect x="180.70" y="94.8" width="1.1" height="11.9" fill="#444"/>
<rect x="179.35" y="97.2" width="3.8" height="3.1" fill="#ee4523" stroke="#1a1a1a" stroke-width="0.7"/>
<rect x="186.01" y="90.8" width="1.1" height="15.1" fill="#444"/>
<rect x="184.66" y="96.7" width="3.8" height="2.8" fill="#ee4523" stroke="#1a1a1a" stroke-width="0.7"/>
<rect x="191.32" y="99.0" width="1.1" height="31.6" fill="#444"/>
<rect x="189.97" y="100.3" width="3.8" height="27.6" fill="#ee4523" stroke="#1a1a1a" stroke-width="0.7"/>
<rect x="196.63" y="125.1" width="1.1" height="14.3" fill="#444"/>
<rect x="195.28" y="126.4" width="3.8" height="2.4" fill="#0aa64d" stroke="#1a1a1a" stroke-width="0.7"/>
<rect x="201.94" y="124.2" width="1.1" height="40.8" fill="#444"/>
<rect x="200.59" y="126.1" width="3.8" height="33.5" fill="#ee4523" stroke="#1a1a1a" stroke-width="0.7"/>
<rect x="207.25" y="154.9" width="1.1" height="24.4" fill="#444"/>
<rect x="205.90" y="156.4" width="3.8" height="13.8" fill="#ee4523" stroke="#1a1a1a" stroke-width="0.7"/>
<rect x="212.55" y="166.5" width="1.1" height="13.8" fill="#444"/>
<rect x="211.20" y="171.5" width="3.8" height="2.4" fill="#0aa64d" stroke="#1a1a1a" stroke-width="0.7"/>
<rect x="217.86" y="168.3" width="1.1" height="13.2" fill="#444"/>
<rect x="216.51" y="172.6" width="3.8" height="5.0" fill="#ee4523" stroke="#1a1a1a" stroke-width="0.7"/>
<rect x="223.17" y="160.1" width="1.1" height="17.1" fill="#444"/>
<rect x="221.82" y="165.2" width="3.8" height="11.0" fill="#0aa64d" stroke="#1a1a1a" stroke-width="0.7"/>
<rect x="228.48" y="156.0" width="1.1" height="12.3" fill="#444"/>
<rect x="227.13" y="158.8" width="3.8" height="5.3" fill="#0aa64d" stroke="#1a1a1a" stroke-width="0.7"/>
<rect x="233.79" y="158.9" width="1.1" height="12.9" fill="#444"/>
<rect x="232.44" y="160.2" width="3.8" height="2.9" fill="#ee4523" stroke="#1a1a1a" stroke-width="0.7"/>
<rect x="239.10" y="158.4" width="1.1" height="18.4" fill="#444"/>
<rect x="237.75" y="160.2" width="3.8" height="2.9" fill="#0aa64d" stroke="#1a1a1a" stroke-width="0.7"/>
<rect x="244.41" y="152.1" width="1.1" height="11.4" fill="#444"/>
<rect x="243.06" y="153.8" width="3.8" height="6.6" fill="#0aa64d" stroke="#1a1a1a" stroke-width="0.7"/>
<rect x="249.72" y="149.7" width="1.1" height="9.7" fill="#444"/>
<rect x="248.07" y="153.4" width="4.4" height="1.2" fill="#1a1a1a"/>
<rect x="255.02" y="150.7" width="1.1" height="8.3" fill="#444"/>
<rect x="253.67" y="152.5" width="3.8" height="4.0" fill="#ee4523" stroke="#1a1a1a" stroke-width="0.7"/>
<rect x="260.33" y="148.8" width="1.1" height="13.8" fill="#444"/>
<rect x="258.98" y="156.2" width="3.8" height="4.6" fill="#ee4523" stroke="#1a1a1a" stroke-width="0.7"/>
<rect x="265.64" y="153.4" width="1.1" height="8.3" fill="#444"/>
<rect x="264.29" y="154.7" width="3.8" height="3.9" fill="#ee4523" stroke="#1a1a1a" stroke-width="0.7"/>
<rect x="270.95" y="147.9" width="1.1" height="23.0" fill="#444"/>
<rect x="269.60" y="149.4" width="3.8" height="21.0" fill="#0aa64d" stroke="#1a1a1a" stroke-width="0.7"/>
<rect x="276.26" y="148.8" width="1.1" height="9.6" fill="#444"/>
<rect x="274.91" y="149.4" width="3.8" height="8.1" fill="#ee4523" stroke="#1a1a1a" stroke-width="0.7"/>
<rect x="281.57" y="153.4" width="1.1" height="10.1" fill="#444"/>
<rect x="280.22" y="154.3" width="3.8" height="2.2" fill="#0aa64d" stroke="#1a1a1a" stroke-width="0.7"/>
<rect x="286.88" y="155.3" width="1.1" height="10.5" fill="#444"/>
<rect x="285.53" y="156.5" width="3.8" height="5.7" fill="#ee4523" stroke="#1a1a1a" stroke-width="0.7"/>
<rect x="292.19" y="144.2" width="1.1" height="18.9" fill="#444"/>
<rect x="290.84" y="146.4" width="3.8" height="14.9" fill="#0aa64d" stroke="#1a1a1a" stroke-width="0.7"/>
<rect x="297.49" y="137.2" width="1.1" height="30.3" fill="#444"/>
<rect x="296.14" y="146.4" width="3.8" height="18.9" fill="#ee4523" stroke="#1a1a1a" stroke-width="0.7"/>
<rect x="302.80" y="155.8" width="1.1" height="11.4" fill="#444"/>
<rect x="301.45" y="157.1" width="3.8" height="7.9" fill="#0aa64d" stroke="#1a1a1a" stroke-width="0.7"/>
<rect x="308.11" y="153.4" width="1.1" height="30.7" fill="#444"/>
<rect x="306.76" y="159.5" width="3.8" height="23.7" fill="#ee4523" stroke="#1a1a1a" stroke-width="0.7"/>
<rect x="313.42" y="176.4" width="1.1" height="8.3" fill="#444"/>
<rect x="312.07" y="180.4" width="3.8" height="2.9" fill="#0aa64d" stroke="#1a1a1a" stroke-width="0.7"/>
<rect x="318.73" y="174.2" width="1.1" height="6.8" fill="#444"/>
<rect x="317.38" y="177.7" width="3.8" height="2.4" fill="#0aa64d" stroke="#1a1a1a" stroke-width="0.7"/>
<rect x="324.04" y="159.5" width="1.1" height="20.0" fill="#444"/>
<rect x="322.69" y="169.0" width="3.8" height="7.4" fill="#0aa64d" stroke="#1a1a1a" stroke-width="0.7"/>
<rect x="329.35" y="149.7" width="1.1" height="20.6" fill="#444"/>
<rect x="327.70" y="163.5" width="4.4" height="1.2" fill="#1a1a1a"/>
<rect x="334.65" y="155.3" width="1.1" height="10.5" fill="#444"/>
<rect x="333.30" y="159.5" width="3.8" height="2.6" fill="#0aa64d" stroke="#1a1a1a" stroke-width="0.7"/>
<rect x="339.96" y="152.9" width="1.1" height="9.6" fill="#444"/>
<rect x="338.61" y="153.9" width="3.8" height="6.4" fill="#0aa64d" stroke="#1a1a1a" stroke-width="0.7"/>
<rect x="345.27" y="152.0" width="1.1" height="6.8" fill="#444"/>
<rect x="343.92" y="154.4" width="3.8" height="1.8" fill="#ee4523" stroke="#1a1a1a" stroke-width="0.7"/>
<rect x="350.58" y="154.4" width="1.1" height="9.2" fill="#444"/>
<rect x="348.93" y="156.6" width="4.4" height="1.2" fill="#1a1a1a"/>
<rect x="355.89" y="150.2" width="1.1" height="12.3" fill="#444"/>
<rect x="354.54" y="151.5" width="3.8" height="5.1" fill="#0aa64d" stroke="#1a1a1a" stroke-width="0.7"/>
<rect x="361.20" y="142.8" width="1.1" height="12.9" fill="#444"/>
<rect x="359.85" y="147.8" width="3.8" height="6.1" fill="#0aa64d" stroke="#1a1a1a" stroke-width="0.7"/>
<rect x="366.51" y="130.9" width="1.1" height="17.5" fill="#444"/>
<rect x="365.16" y="131.8" width="3.8" height="15.6" fill="#0aa64d" stroke="#1a1a1a" stroke-width="0.7"/>
<rect x="371.82" y="111.6" width="1.1" height="23.9" fill="#444"/>
<rect x="370.47" y="112.5" width="3.8" height="18.8" fill="#0aa64d" stroke="#1a1a1a" stroke-width="0.7"/>
<rect x="377.12" y="96.3" width="1.1" height="18.0" fill="#444"/>
<rect x="375.77" y="104.2" width="3.8" height="9.2" fill="#0aa64d" stroke="#1a1a1a" stroke-width="0.7"/>
<rect x="382.43" y="101.5" width="1.1" height="11.9" fill="#444"/>
<rect x="381.08" y="103.9" width="3.8" height="2.8" fill="#ee4523" stroke="#1a1a1a" stroke-width="0.7"/>
<rect x="387.74" y="102.4" width="1.1" height="10.5" fill="#444"/>
<rect x="386.39" y="103.7" width="3.8" height="8.3" fill="#0aa64d" stroke="#1a1a1a" stroke-width="0.7"/>
<rect x="393.05" y="92.8" width="1.1" height="17.8" fill="#444"/>
<rect x="391.70" y="105.5" width="3.8" height="2.8" fill="#ee4523" stroke="#1a1a1a" stroke-width="0.7"/>
<rect x="398.36" y="96.0" width="1.1" height="17.1" fill="#444"/>
<rect x="397.01" y="101.5" width="3.8" height="7.7" fill="#0aa64d" stroke="#1a1a1a" stroke-width="0.7"/>
<rect x="403.67" y="86.2" width="1.1" height="14.9" fill="#444"/>
<rect x="402.32" y="95.4" width="3.8" height="4.6" fill="#0aa64d" stroke="#1a1a1a" stroke-width="0.7"/>
<rect x="408.98" y="73.0" width="1.1" height="27.6" fill="#444"/>
<rect x="407.33" y="93.2" width="4.4" height="1.2" fill="#1a1a1a"/>
<rect x="414.29" y="77.2" width="1.1" height="27.4" fill="#444"/>
<rect x="412.94" y="81.2" width="3.8" height="12.3" fill="#0aa64d" stroke="#1a1a1a" stroke-width="0.7"/>
<rect x="419.59" y="53.1" width="1.1" height="45.6" fill="#444"/>
<rect x="418.24" y="78.5" width="3.8" height="16.0" fill="#ee4523" stroke="#1a1a1a" stroke-width="0.7"/>
<rect x="424.90" y="91.4" width="1.1" height="22.1" fill="#444"/>
<rect x="423.55" y="97.2" width="3.8" height="10.3" fill="#ee4523" stroke="#1a1a1a" stroke-width="0.7"/>
<rect x="430.21" y="94.1" width="1.1" height="17.5" fill="#444"/>
<rect x="428.86" y="97.8" width="3.8" height="11.0" fill="#0aa64d" stroke="#1a1a1a" stroke-width="0.7"/>
<rect x="435.52" y="96.0" width="1.1" height="10.1" fill="#444"/>
<rect x="434.17" y="96.5" width="3.8" height="7.4" fill="#ee4523" stroke="#1a1a1a" stroke-width="0.7"/>
<rect x="440.83" y="104.2" width="1.1" height="16.5" fill="#444"/>
<rect x="439.48" y="105.1" width="3.8" height="13.4" fill="#ee4523" stroke="#1a1a1a" stroke-width="0.7"/>
<rect x="446.14" y="101.5" width="1.1" height="16.2" fill="#444"/>
<rect x="444.79" y="104.2" width="3.8" height="11.0" fill="#0aa64d" stroke="#1a1a1a" stroke-width="0.7"/>
<rect x="451.45" y="101.6" width="1.1" height="9.2" fill="#444"/>
<rect x="450.10" y="103.4" width="3.8" height="3.7" fill="#ee4523" stroke="#1a1a1a" stroke-width="0.7"/>
<rect x="456.75" y="93.9" width="1.1" height="14.7" fill="#444"/>
<rect x="455.40" y="99.4" width="3.8" height="6.8" fill="#0aa64d" stroke="#1a1a1a" stroke-width="0.7"/>
<rect x="462.06" y="94.8" width="1.1" height="30.1" fill="#444"/>
<rect x="460.71" y="101.6" width="3.8" height="12.9" fill="#ee4523" stroke="#1a1a1a" stroke-width="0.7"/>
<rect x="467.37" y="108.0" width="1.1" height="13.8" fill="#444"/>
<rect x="466.02" y="113.5" width="3.8" height="1.8" fill="#0aa64d" stroke="#1a1a1a" stroke-width="0.7"/>
<rect x="472.68" y="109.5" width="1.1" height="16.9" fill="#444"/>
<rect x="471.03" y="112.8" width="4.4" height="1.2" fill="#1a1a1a"/>
<rect x="477.99" y="96.1" width="1.1" height="21.5" fill="#444"/>
<rect x="476.64" y="97.4" width="3.8" height="18.0" fill="#0aa64d" stroke="#1a1a1a" stroke-width="0.7"/>
<rect x="483.30" y="82.3" width="1.1" height="18.9" fill="#444"/>
<rect x="481.95" y="88.7" width="3.8" height="11.6" fill="#ee4523" stroke="#1a1a1a" stroke-width="0.7"/>
<rect x="488.61" y="97.5" width="1.1" height="38.1" fill="#444"/>
<rect x="487.26" y="98.5" width="3.8" height="36.2" fill="#ee4523" stroke="#1a1a1a" stroke-width="0.7"/>
<rect x="493.92" y="128.2" width="1.1" height="15.6" fill="#444"/>
<rect x="492.57" y="132.8" width="3.8" height="2.8" fill="#0aa64d" stroke="#1a1a1a" stroke-width="0.7"/>
<rect x="499.22" y="102.1" width="1.1" height="28.9" fill="#444"/>
<rect x="497.87" y="103.8" width="3.8" height="26.3" fill="#0aa64d" stroke="#1a1a1a" stroke-width="0.7"/>
<rect x="504.53" y="99.2" width="1.1" height="17.6" fill="#444"/>
<rect x="503.18" y="103.4" width="3.8" height="9.7" fill="#0aa64d" stroke="#1a1a1a" stroke-width="0.7"/>
<rect x="509.84" y="97.4" width="1.1" height="29.0" fill="#444"/>
<rect x="508.49" y="98.3" width="3.8" height="24.1" fill="#ee4523" stroke="#1a1a1a" stroke-width="0.7"/>
<rect x="515.15" y="117.2" width="1.1" height="13.8" fill="#444"/>
<rect x="513.80" y="123.3" width="3.8" height="5.3" fill="#ee4523" stroke="#1a1a1a" stroke-width="0.7"/>
<rect x="520.46" y="120.9" width="1.1" height="12.9" fill="#444"/>
<rect x="519.11" y="126.4" width="3.8" height="2.2" fill="#0aa64d" stroke="#1a1a1a" stroke-width="0.7"/>
<rect x="525.77" y="111.3" width="1.1" height="16.0" fill="#444"/>
<rect x="524.42" y="113.9" width="3.8" height="11.9" fill="#0aa64d" stroke="#1a1a1a" stroke-width="0.7"/>
<rect x="531.08" y="112.6" width="1.1" height="12.3" fill="#444"/>
<rect x="529.73" y="114.4" width="3.8" height="7.0" fill="#ee4523" stroke="#1a1a1a" stroke-width="0.7"/>
<rect x="536.39" y="113.5" width="1.1" height="9.6" fill="#444"/>
<rect x="535.04" y="116.3" width="3.8" height="4.6" fill="#0aa64d" stroke="#1a1a1a" stroke-width="0.7"/>
<rect x="541.69" y="115.0" width="1.1" height="13.8" fill="#444"/>
<rect x="540.34" y="117.6" width="3.8" height="8.8" fill="#ee4523" stroke="#1a1a1a" stroke-width="0.7"/>
<rect x="547.00" y="124.6" width="1.1" height="11.0" fill="#444"/>
<rect x="545.65" y="125.5" width="3.8" height="7.0" fill="#ee4523" stroke="#1a1a1a" stroke-width="0.7"/>
<rect x="552.31" y="120.3" width="1.1" height="14.9" fill="#444"/>
<rect x="550.96" y="124.9" width="3.8" height="9.7" fill="#0aa64d" stroke="#1a1a1a" stroke-width="0.7"/>
<rect x="557.62" y="116.3" width="1.1" height="10.1" fill="#444"/>
<rect x="556.27" y="119.0" width="3.8" height="5.9" fill="#0aa64d" stroke="#1a1a1a" stroke-width="0.7"/>
<rect x="562.93" y="92.4" width="1.1" height="28.1" fill="#444"/>
<rect x="561.58" y="95.1" width="3.8" height="24.3" fill="#0aa64d" stroke="#1a1a1a" stroke-width="0.7"/>
<rect x="568.24" y="78.6" width="1.1" height="17.5" fill="#444"/>
<rect x="566.89" y="86.5" width="3.8" height="8.3" fill="#0aa64d" stroke="#1a1a1a" stroke-width="0.7"/>
<rect x="573.55" y="78.6" width="1.1" height="13.4" fill="#444"/>
<rect x="572.20" y="79.5" width="3.8" height="5.5" fill="#ee4523" stroke="#1a1a1a" stroke-width="0.7"/>
<rect x="578.85" y="68.9" width="1.1" height="15.3" fill="#444"/>
<rect x="577.50" y="74.0" width="3.8" height="8.8" fill="#0aa64d" stroke="#1a1a1a" stroke-width="0.7"/>
<rect x="584.16" y="51.9" width="1.1" height="22.6" fill="#444"/>
<rect x="582.81" y="54.3" width="3.8" height="12.3" fill="#0aa64d" stroke="#1a1a1a" stroke-width="0.7"/>
<rect x="589.47" y="62.6" width="1.1" height="46.9" fill="#444"/>
<rect x="588.12" y="63.3" width="3.8" height="24.8" fill="#ee4523" stroke="#1a1a1a" stroke-width="0.7"/>
<rect x="594.78" y="90.6" width="1.1" height="22.1" fill="#444"/>
<rect x="593.43" y="101.9" width="3.8" height="6.1" fill="#ee4523" stroke="#1a1a1a" stroke-width="0.7"/>
<rect x="600.09" y="100.0" width="1.1" height="23.9" fill="#444"/>
<rect x="598.74" y="107.0" width="3.8" height="11.4" fill="#ee4523" stroke="#1a1a1a" stroke-width="0.7"/>
<rect x="605.40" y="110.1" width="1.1" height="83.6" fill="#444"/>
<rect x="604.05" y="116.9" width="3.8" height="74.1" fill="#ee4523" stroke="#1a1a1a" stroke-width="0.7"/>
<rect x="610.71" y="157.4" width="1.1" height="34.0" fill="#444"/>
<rect x="609.36" y="175.0" width="3.8" height="13.8" fill="#0aa64d" stroke="#1a1a1a" stroke-width="0.7"/>
<rect x="616.02" y="133.6" width="1.1" height="46.3" fill="#444"/>
<rect x="614.67" y="149.6" width="3.8" height="29.8" fill="#0aa64d" stroke="#1a1a1a" stroke-width="0.7"/>
<rect x="621.32" y="141.9" width="1.1" height="13.2" fill="#444"/>
<rect x="619.97" y="146.5" width="3.8" height="2.2" fill="#0aa64d" stroke="#1a1a1a" stroke-width="0.7"/>
<rect x="626.63" y="134.6" width="1.1" height="16.9" fill="#444"/>
<rect x="625.28" y="138.2" width="3.8" height="9.2" fill="#0aa64d" stroke="#1a1a1a" stroke-width="0.7"/>
<rect x="631.94" y="128.1" width="1.1" height="30.7" fill="#444"/>
<rect x="630.59" y="134.9" width="3.8" height="10.5" fill="#ee4523" stroke="#1a1a1a" stroke-width="0.7"/>
<rect x="637.25" y="126.1" width="1.1" height="59.4" fill="#444"/>
<rect x="635.90" y="132.5" width="3.8" height="24.4" fill="#ee4523" stroke="#1a1a1a" stroke-width="0.7"/>
<rect x="642.56" y="149.3" width="1.1" height="22.4" fill="#444"/>
<rect x="641.21" y="159.2" width="3.8" height="3.7" fill="#ee4523" stroke="#1a1a1a" stroke-width="0.7"/>
<rect x="647.87" y="154.8" width="1.1" height="24.3" fill="#444"/>
<rect x="646.52" y="167.5" width="3.8" height="5.5" fill="#ee4523" stroke="#1a1a1a" stroke-width="0.7"/>
<rect x="653.18" y="166.2" width="1.1" height="78.3" fill="#444"/>
<rect x="651.83" y="176.3" width="3.8" height="40.4" fill="#ee4523" stroke="#1a1a1a" stroke-width="0.7"/>
<rect x="658.49" y="223.0" width="1.1" height="83.3" fill="#444"/>
<rect x="657.14" y="226.3" width="3.8" height="75.4" fill="#ee4523" stroke="#1a1a1a" stroke-width="0.7"/>
<rect x="663.79" y="259.7" width="1.1" height="196.3" fill="#444"/>
<rect x="662.44" y="267.9" width="3.8" height="129.2" fill="#ee4523" stroke="#1a1a1a" stroke-width="0.7"/>
<rect x="669.10" y="373.7" width="1.1" height="62.9" fill="#444"/>
<rect x="667.75" y="394.8" width="3.8" height="20.2" fill="#ee4523" stroke="#1a1a1a" stroke-width="0.7"/>
<rect x="674.41" y="392.1" width="1.1" height="71.7" fill="#444"/>
<rect x="673.06" y="408.6" width="3.8" height="47.8" fill="#ee4523" stroke="#1a1a1a" stroke-width="0.7"/>
<rect x="679.72" y="425.1" width="1.1" height="31.2" fill="#444"/>
<rect x="678.37" y="436.2" width="3.8" height="8.8" fill="#0aa64d" stroke="#1a1a1a" stroke-width="0.7"/>
<rect x="685.03" y="381.9" width="1.1" height="60.7" fill="#444"/>
<rect x="683.68" y="421.8" width="3.8" height="14.3" fill="#0aa64d" stroke="#1a1a1a" stroke-width="0.7"/>
<rect x="690.34" y="368.2" width="1.1" height="57.9" fill="#444"/>
<rect x="688.99" y="371.8" width="3.8" height="36.8" fill="#0aa64d" stroke="#1a1a1a" stroke-width="0.7"/>
<rect x="695.65" y="306.2" width="1.1" height="67.8" fill="#444"/>
<rect x="694.30" y="315.7" width="3.8" height="53.3" fill="#0aa64d" stroke="#1a1a1a" stroke-width="0.7"/>
<rect x="700.95" y="278.1" width="1.1" height="34.4" fill="#444"/>
<rect x="699.60" y="280.3" width="3.8" height="26.3" fill="#0aa64d" stroke="#1a1a1a" stroke-width="0.7"/>
<rect x="706.26" y="275.0" width="1.1" height="31.2" fill="#444"/>
<rect x="704.91" y="286.4" width="3.8" height="5.5" fill="#ee4523" stroke="#1a1a1a" stroke-width="0.7"/>
<rect x="711.57" y="283.1" width="1.1" height="27.2" fill="#444"/>
<rect x="710.22" y="292.8" width="3.8" height="7.4" fill="#ee4523" stroke="#1a1a1a" stroke-width="0.7"/>
<rect x="716.88" y="290.0" width="1.1" height="42.6" fill="#444"/>
<rect x="715.53" y="290.6" width="3.8" height="32.0" fill="#ee4523" stroke="#1a1a1a" stroke-width="0.7"/>
<rect x="722.19" y="302.5" width="1.1" height="23.3" fill="#444"/>
<rect x="720.84" y="318.5" width="3.8" height="2.4" fill="#ee4523" stroke="#1a1a1a" stroke-width="0.7"/>
<rect x="727.50" y="315.7" width="1.1" height="20.2" fill="#444"/>
<rect x="726.15" y="322.5" width="3.8" height="8.8" fill="#ee4523" stroke="#1a1a1a" stroke-width="0.7"/>
<rect x="732.81" y="290.0" width="1.1" height="40.8" fill="#444"/>
<rect x="731.46" y="293.3" width="3.8" height="33.5" fill="#0aa64d" stroke="#1a1a1a" stroke-width="0.7"/>
<rect x="738.12" y="288.2" width="1.1" height="16.5" fill="#444"/>
<rect x="736.77" y="294.6" width="3.8" height="7.9" fill="#ee4523" stroke="#1a1a1a" stroke-width="0.7"/>
<rect x="743.42" y="251.5" width="1.1" height="58.8" fill="#444"/>
<rect x="742.07" y="264.0" width="3.8" height="35.8" fill="#0aa64d" stroke="#1a1a1a" stroke-width="0.7"/>
<rect x="748.73" y="221.2" width="1.1" height="40.4" fill="#444"/>
<rect x="747.38" y="246.6" width="3.8" height="10.5" fill="#0aa64d" stroke="#1a1a1a" stroke-width="0.7"/>
<rect x="754.04" y="249.7" width="1.1" height="16.5" fill="#444"/>
<rect x="752.69" y="256.5" width="3.8" height="5.1" fill="#ee4523" stroke="#1a1a1a" stroke-width="0.7"/>
<rect x="759.35" y="212.1" width="1.1" height="51.5" fill="#444"/>
<rect x="758.00" y="213.5" width="3.8" height="47.8" fill="#0aa64d" stroke="#1a1a1a" stroke-width="0.7"/>
<rect x="764.66" y="218.5" width="1.1" height="32.7" fill="#444"/>
<rect x="763.31" y="224.0" width="3.8" height="18.9" fill="#ee4523" stroke="#1a1a1a" stroke-width="0.7"/>
<rect x="769.97" y="200.5" width="1.1" height="36.4" fill="#444"/>
<rect x="768.62" y="209.7" width="3.8" height="26.3" fill="#0aa64d" stroke="#1a1a1a" stroke-width="0.7"/>
<rect x="775.28" y="213.0" width="1.1" height="32.7" fill="#444"/>
<rect x="773.93" y="213.5" width="3.8" height="31.2" fill="#ee4523" stroke="#1a1a1a" stroke-width="0.7"/>
<rect x="780.59" y="222.2" width="1.1" height="26.7" fill="#444"/>
<rect x="779.24" y="236.5" width="3.8" height="1.8" fill="#ee4523" stroke="#1a1a1a" stroke-width="0.7"/>
<rect x="785.89" y="228.6" width="1.1" height="33.6" fill="#444"/>
<rect x="784.54" y="231.4" width="3.8" height="25.7" fill="#ee4523" stroke="#1a1a1a" stroke-width="0.7"/>
<rect x="791.20" y="236.9" width="1.1" height="23.9" fill="#444"/>
<rect x="789.85" y="238.7" width="3.8" height="18.4" fill="#0aa64d" stroke="#1a1a1a" stroke-width="0.7"/>
<rect x="796.51" y="242.4" width="1.1" height="55.5" fill="#444"/>
<rect x="795.16" y="243.3" width="3.8" height="37.1" fill="#ee4523" stroke="#1a1a1a" stroke-width="0.7"/>
<rect x="801.82" y="253.1" width="1.1" height="32.5" fill="#444"/>
<rect x="800.47" y="254.3" width="3.8" height="21.1" fill="#0aa64d" stroke="#1a1a1a" stroke-width="0.7"/>
<rect x="807.13" y="233.2" width="1.1" height="28.1" fill="#444"/>
<rect x="805.78" y="253.4" width="3.8" height="4.0" fill="#0aa64d" stroke="#1a1a1a" stroke-width="0.7"/>
<rect x="812.44" y="232.3" width="1.1" height="24.8" fill="#444"/>
<rect x="811.09" y="243.3" width="3.8" height="5.0" fill="#ee4523" stroke="#1a1a1a" stroke-width="0.7"/>
<rect x="817.75" y="237.8" width="1.1" height="18.0" fill="#444"/>
<rect x="816.40" y="246.1" width="3.8" height="8.3" fill="#ee4523" stroke="#1a1a1a" stroke-width="0.7"/>
<rect x="823.05" y="245.1" width="1.1" height="23.0" fill="#444"/>
<rect x="821.70" y="248.8" width="3.8" height="6.1" fill="#ee4523" stroke="#1a1a1a" stroke-width="0.7"/>
<rect x="828.36" y="239.6" width="1.1" height="19.9" fill="#444"/>
<rect x="826.71" y="254.3" width="4.4" height="1.2" fill="#1a1a1a"/>
<rect x="833.67" y="220.9" width="1.1" height="60.5" fill="#444"/>
<rect x="832.32" y="243.3" width="3.8" height="31.6" fill="#ee4523" stroke="#1a1a1a" stroke-width="0.7"/>
<rect x="838.98" y="265.4" width="1.1" height="18.0" fill="#444"/>
<rect x="837.63" y="269.6" width="3.8" height="7.2" fill="#ee4523" stroke="#1a1a1a" stroke-width="0.7"/>
<rect x="844.29" y="261.0" width="1.1" height="25.2" fill="#444"/>
<rect x="842.94" y="269.3" width="3.8" height="15.6" fill="#ee4523" stroke="#1a1a1a" stroke-width="0.7"/>
<rect x="849.60" y="262.8" width="1.1" height="23.9" fill="#444"/>
<rect x="848.25" y="267.4" width="3.8" height="14.7" fill="#0aa64d" stroke="#1a1a1a" stroke-width="0.7"/>
<rect x="854.91" y="252.2" width="1.1" height="30.0" fill="#444"/>
<rect x="853.56" y="267.4" width="3.8" height="5.5" fill="#ee4523" stroke="#1a1a1a" stroke-width="0.7"/>
<rect x="860.22" y="234.3" width="1.1" height="44.1" fill="#444"/>
<rect x="858.87" y="239.9" width="3.8" height="38.2" fill="#0aa64d" stroke="#1a1a1a" stroke-width="0.7"/>
<rect x="865.52" y="218.2" width="1.1" height="26.3" fill="#444"/>
<rect x="864.17" y="229.2" width="3.8" height="9.2" fill="#0aa64d" stroke="#1a1a1a" stroke-width="0.7"/>
<rect x="870.83" y="221.5" width="1.1" height="22.1" fill="#444"/>
<rect x="869.48" y="231.2" width="3.8" height="4.0" fill="#ee4523" stroke="#1a1a1a" stroke-width="0.7"/>
<rect x="876.14" y="224.2" width="1.1" height="19.3" fill="#444"/>
<rect x="874.49" y="233.1" width="4.4" height="1.2" fill="#1a1a1a"/>
<rect x="881.45" y="222.4" width="1.1" height="20.2" fill="#444"/>
<rect x="880.10" y="235.3" width="3.8" height="3.1" fill="#0aa64d" stroke="#1a1a1a" stroke-width="0.7"/>
<rect x="886.76" y="204.0" width="1.1" height="31.8" fill="#444"/>
<rect x="885.41" y="208.1" width="3.8" height="22.6" fill="#0aa64d" stroke="#1a1a1a" stroke-width="0.7"/>
<rect x="892.07" y="152.5" width="1.1" height="55.1" fill="#444"/>
<rect x="890.72" y="156.5" width="3.8" height="50.0" fill="#0aa64d" stroke="#1a1a1a" stroke-width="0.7"/>
<rect x="897.38" y="105.0" width="1.1" height="47.4" fill="#444"/>
<rect x="896.03" y="134.1" width="3.8" height="13.2" fill="#0aa64d" stroke="#1a1a1a" stroke-width="0.7"/>
<rect x="902.69" y="103.2" width="1.1" height="37.1" fill="#444"/>
<rect x="901.34" y="109.3" width="3.8" height="30.1" fill="#0aa64d" stroke="#1a1a1a" stroke-width="0.7"/>
<rect x="907.99" y="94.6" width="1.1" height="22.4" fill="#444"/>
<rect x="906.64" y="102.3" width="3.8" height="8.3" fill="#0aa64d" stroke="#1a1a1a" stroke-width="0.7"/>
<rect x="913.30" y="99.5" width="1.1" height="45.6" fill="#444"/>
<rect x="911.95" y="100.8" width="3.8" height="38.6" fill="#ee4523" stroke="#1a1a1a" stroke-width="0.7"/>
<rect x="918.61" y="117.5" width="1.1" height="31.6" fill="#444"/>
<rect x="917.26" y="121.6" width="3.8" height="13.8" fill="#0aa64d" stroke="#1a1a1a" stroke-width="0.7"/>
<rect x="923.92" y="101.9" width="1.1" height="37.1" fill="#444"/>
<rect x="922.57" y="121.9" width="3.8" height="4.2" fill="#ee4523" stroke="#1a1a1a" stroke-width="0.7"/>
<rect x="929.23" y="112.4" width="1.1" height="34.6" fill="#444"/>
<rect x="927.88" y="117.9" width="3.8" height="10.5" fill="#0aa64d" stroke="#1a1a1a" stroke-width="0.7"/>
<rect x="934.54" y="98.2" width="1.1" height="22.4" fill="#444"/>
<rect x="933.19" y="105.6" width="3.8" height="9.6" fill="#0aa64d" stroke="#1a1a1a" stroke-width="0.7"/>
<rect x="939.85" y="72.7" width="1.1" height="41.4" fill="#444"/>
<rect x="938.50" y="75.8" width="3.8" height="32.4" fill="#0aa64d" stroke="#1a1a1a" stroke-width="0.7"/>
<rect x="945.16" y="50.1" width="1.1" height="27.6" fill="#444"/>
<rect x="943.81" y="56.7" width="3.8" height="11.0" fill="#0aa64d" stroke="#1a1a1a" stroke-width="0.7"/>
<rect x="950.46" y="53.0" width="1.1" height="43.6" fill="#444"/>
<rect x="949.11" y="55.2" width="3.8" height="33.5" fill="#ee4523" stroke="#1a1a1a" stroke-width="0.7"/>
<rect x="955.77" y="81.0" width="1.1" height="40.4" fill="#444"/>
<rect x="954.42" y="81.9" width="3.8" height="23.9" fill="#ee4523" stroke="#1a1a1a" stroke-width="0.7"/>
<rect x="961.08" y="96.6" width="1.1" height="19.3" fill="#444"/>
<rect x="959.73" y="100.8" width="3.8" height="5.0" fill="#0aa64d" stroke="#1a1a1a" stroke-width="0.7"/>
<rect x="966.39" y="101.5" width="1.1" height="36.9" fill="#444"/>
<rect x="965.04" y="102.5" width="3.8" height="30.9" fill="#ee4523" stroke="#1a1a1a" stroke-width="0.7"/>
<rect x="971.70" y="105.4" width="1.1" height="26.1" fill="#444"/>
<rect x="970.35" y="110.0" width="3.8" height="19.7" fill="#0aa64d" stroke="#1a1a1a" stroke-width="0.7"/>
<rect x="977.01" y="104.5" width="1.1" height="16.9" fill="#444"/>
<rect x="975.66" y="107.2" width="3.8" height="8.1" fill="#ee4523" stroke="#1a1a1a" stroke-width="0.7"/>
<rect x="982.32" y="81.3" width="1.1" height="39.7" fill="#444"/>
<rect x="980.97" y="115.3" width="3.8" height="3.3" fill="#0aa64d" stroke="#1a1a1a" stroke-width="0.7"/>
<rect x="987.62" y="82.4" width="1.1" height="43.2" fill="#444"/>
<rect x="986.27" y="84.6" width="3.8" height="25.2" fill="#ee4523" stroke="#1a1a1a" stroke-width="0.7"/>
<rect x="992.93" y="111.3" width="1.1" height="22.6" fill="#444"/>
<rect x="991.58" y="117.4" width="3.8" height="15.6" fill="#ee4523" stroke="#1a1a1a" stroke-width="0.7"/>
<rect x="998.24" y="125.1" width="1.1" height="33.6" fill="#444"/>
<rect x="996.89" y="128.4" width="3.8" height="1.8" fill="#ee4523" stroke="#1a1a1a" stroke-width="0.7"/>
</g>
<rect x="14.6" y="272.7" width="1094.2" height="2" fill="#000"/>
<rect x="393.4" y="40.2" width="605.2" height="38.8" fill="rgba(250,200,120,0.15)" stroke="#5b5047" stroke-width="1.1"/>
<rect x="573.4" y="209.5" width="462.5" height="16.7" fill="rgba(250,200,120,0.15)" stroke="#5b5047" stroke-width="1.1"/>
<path d="M943.9,47.2 Q946,44.6 948.1,47.2" fill="none" stroke="#0aa64d" stroke-width="1"/>
<path d="M673,468.6 Q675.3,468.4 677,467.2" fill="none" stroke="#ee4523" stroke-width="1"/>
<g font-family="Liberation Sans, Arial, sans-serif" font-size="12" font-weight="bold" fill="#111">
<text x="24.8" y="31" textLength="32" lengthAdjust="spacingAndGlyphs">SIK20</text>
<text x="91.6" y="31" textLength="104.7" lengthAdjust="spacingAndGlyphs">MAEXP (50, Close)</text>
<text x="230.6" y="31" textLength="111.5" lengthAdjust="spacingAndGlyphs">MAEXP (200, Close)</text>
<text x="44.2" y="525.7" textLength="23.3" lengthAdjust="spacingAndGlyphs">VOL</text>
</g>
<path d="M74.8,22.8 L81.8,29.8 M81.8,22.8 L74.8,29.8" stroke="#555" stroke-width="1.25" fill="none"/>
<path d="M214.5,22.8 L221.5,29.8 M221.5,22.8 L214.5,29.8" stroke="#555" stroke-width="1.25" fill="none"/>
<path d="M28.0,517.3 L35.0,524.3 M35.0,517.3 L28.0,524.3" stroke="#555" stroke-width="1.25" fill="none"/>
<path d="M1082.6,24.7 L1086.8,28.9 L1091,24.7" fill="none" stroke="#333" stroke-width="1.3"/>
<path d="M1082.8,524.8 L1087,520.6 L1091.2,524.8" fill="none" stroke="#333" stroke-width="1.3"/>
<g font-family="Liberation Sans, Arial, sans-serif" font-size="12" fill="#5a5a5a">
<text x="1120.4" y="51.6" textLength="36.2" lengthAdjust="spacingAndGlyphs">19.000</text>
<text x="1120.4" y="108.2" textLength="36.2" lengthAdjust="spacingAndGlyphs">18.000</text>
<text x="1120.4" y="164.8" textLength="36.2" lengthAdjust="spacingAndGlyphs">17.000</text>
<text x="1120.4" y="221.4" textLength="36.2" lengthAdjust="spacingAndGlyphs">16.000</text>
<text x="1120.4" y="278.0" textLength="36.2" lengthAdjust="spacingAndGlyphs">15.000</text>
<text x="1120.4" y="334.6" textLength="36.2" lengthAdjust="spacingAndGlyphs">14.000</text>
<text x="1120.4" y="391.2" textLength="36.2" lengthAdjust="spacingAndGlyphs">13.000</text>
<text x="1120.4" y="447.8" textLength="36.2" lengthAdjust="spacingAndGlyphs">12.000</text>
<clipPath id="c1"><rect x="1109" y="480" width="54" height="20.5"/></clipPath>
<text x="1120.4" y="504.4" textLength="36.2" lengthAdjust="spacingAndGlyphs" clip-path="url(#c1)">11.000</text>
<text x="1120.6" y="549.1">200K</text>
<text x="1120.6" y="620.7">0K</text>
<text x="45.5" y="646.3" text-anchor="end">ep 23</text>
<text x="80.4" y="646.3" text-anchor="middle">Oct 7</text>
<text x="133.5" y="646.3" text-anchor="middle">Oct 21</text>
<text x="186.6" y="646.3" text-anchor="middle">Nov 4</text>
<text x="239.7" y="646.3" text-anchor="middle">Nov 18</text>
<text x="287.5" y="646.3" text-anchor="middle">Dec 2</text>
<text x="340.6" y="646.3" text-anchor="middle">Dec 16</text>
<text x="388.4" y="646.3" text-anchor="middle">Dec 30</text>
<text x="436.2" y="646.3" text-anchor="middle">Jan 13</text>
<text x="484.0" y="646.3" text-anchor="middle">Jan 27</text>
<text x="537.1" y="646.3" text-anchor="middle">Feb 10</text>
<text x="584.9" y="646.3" text-anchor="middle">Feb 24</text>
<text x="638.0" y="646.3" text-anchor="middle">Mar 9</text>
<text x="691.1" y="646.3" text-anchor="middle">Mar 23</text>
<text x="744.2" y="646.3" text-anchor="middle">Apr 6</text>
<text x="792.0" y="646.3" text-anchor="middle">Apr 20</text>
<text x="845.1" y="646.3" text-anchor="middle">May 4</text>
<text x="898.2" y="646.3" text-anchor="middle">May 18</text>
<text x="946.0" y="646.3" text-anchor="middle">Jun 1</text>
<text x="998.8" y="646.3" text-anchor="middle">Jun 15</text>
<text x="1073.1" y="646.3" text-anchor="middle">Jun 29</text>
</g>
<path d="M1108.6,130.2 L1116.5,120.4 L1160,120.4 L1160,139.9 L1116.5,139.9 Z" fill="#ee4523"/>
<text x="1119.8" y="133.4" font-family="Liberation Sans, Arial, sans-serif" font-size="12" font-weight="bold" fill="#fff" textLength="37.5" lengthAdjust="spacingAndGlyphs">17.535</text>
<path d="M1108.6,169.3 L1116.5,159.6 L1160,159.6 L1160,179.1 L1116.5,179.1 Z" fill="#a82a2a"/>
<text x="1119.8" y="172.5" font-family="Liberation Sans, Arial, sans-serif" font-size="12" font-weight="bold" fill="#fff" textLength="37.5" lengthAdjust="spacingAndGlyphs">16.845</text>
<path d="M1108.6,183.3 L1116.5,173.6 L1160,173.6 L1160,193.1 L1116.5,193.1 Z" fill="#1433f5"/>
<text x="1119.8" y="186.5" font-family="Liberation Sans, Arial, sans-serif" font-size="12" font-weight="bold" fill="#fff" textLength="37.5" lengthAdjust="spacingAndGlyphs">16.597</text>
<path d="M1108.6,273.7 L1116.5,263.9 L1160,263.9 L1160,283.4 L1116.5,283.4 Z" fill="#000"/>
<text x="1119.8" y="276.9" font-family="Liberation Sans, Arial, sans-serif" font-size="12" font-weight="bold" fill="#fff" textLength="37.5" lengthAdjust="spacingAndGlyphs">15.000</text>
<path d="M1108.6,553.4 L1116.5,543.3 L1151.4,543.3 L1151.4,563.5 L1116.5,563.5 Z" fill="#b84fd6"/>
<text x="1119.8" y="556.6" font-family="Liberation Sans, Arial, sans-serif" font-size="12" font-weight="bold" fill="#fff" textLength="28.5" lengthAdjust="spacingAndGlyphs">179K</text>
<path d="M1108.6,592.5 L1116.5,582.4 L1144.6,582.4 L1144.6,602.6 L1116.5,602.6 Z" fill="#0aa64d"/>
<text x="1119.8" y="595.7" font-family="Liberation Sans, Arial, sans-serif" font-size="12" font-weight="bold" fill="#fff" textLength="21.5" lengthAdjust="spacingAndGlyphs">69K</text>
</svg>
</body></html>
